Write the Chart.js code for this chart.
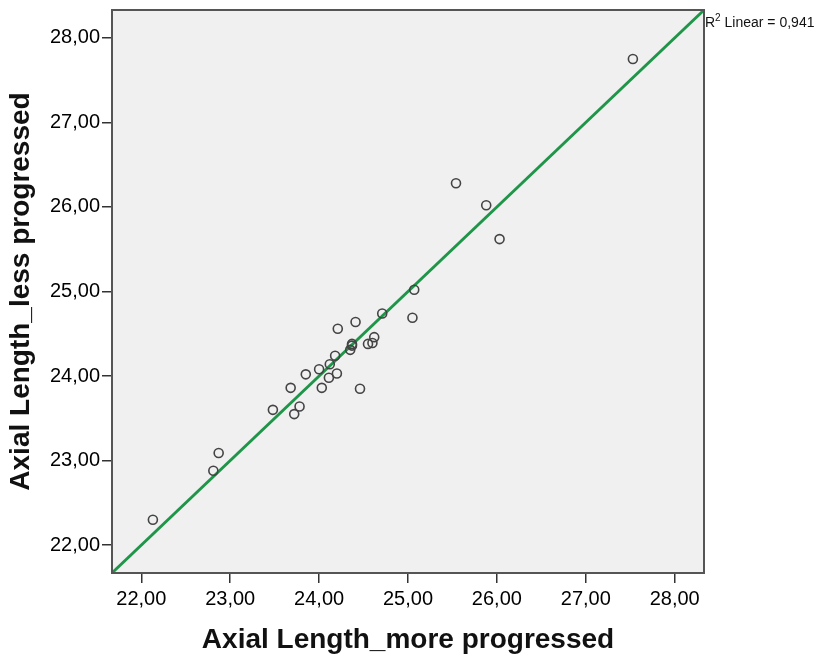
<!DOCTYPE html>
<html>
<head>
<meta charset="utf-8">
<title>Axial Length scatter</title>
<script src="https://cdn.jsdelivr.net/npm/chart.js@4/dist/chart.umd.min.js"></script>
<style>
  html, body { margin: 0; padding: 0; background: #ffffff; }
  #wrap { width: 817px; height: 658px; }
</style>
</head>
<body>
<div id="wrap">
  <canvas id="scatterChart" width="817" height="658"></canvas>
</div>
<script>
// Axial length of the more progressed eye (x) vs the less progressed eye (y)
const moreProgressed = [
    27.53, 25.54, 25.88, 26.03, 25.07, 25.05, 24.71, 24.41, 24.21, 24.62,
    24.55, 24.60, 24.37, 24.35, 24.37, 24.18, 24.12, 24.00, 23.85, 24.20,
    24.11, 23.68, 24.03, 24.46, 23.48, 23.78, 23.72, 22.87, 22.81, 22.13
];
const lessProgressed = [
    27.75, 26.28, 26.02, 25.62, 25.02, 24.69, 24.74, 24.64, 24.56, 24.46,
    24.38, 24.39, 24.38, 24.31, 24.36, 24.24, 24.14, 24.08, 24.02, 24.03,
    23.98, 23.86, 23.86, 23.85, 23.60, 23.64, 23.55, 23.09, 22.88, 22.30
];

// Fit line end points (spans the full axis range)
const fitX = [21.67, 28.33];
const fitY = [21.67, 28.33];
const rSquared = '0,941';

// Axis range and tick labels
const axisMin = 21.67;
const axisMax = 28.33;
const tickValues = [22, 23, 24, 25, 26, 27, 28];
const tickLabels = ['22,00', '23,00', '24,00', '25,00', '26,00', '27,00', '28,00'];

const FONT = "'Liberation Sans', Arial, sans-serif";

// Grey plot background and dark frame around the chart area
const plotFrame = {
    id: 'plotFrame',
    beforeDraw(chart) {
        const { ctx, chartArea: a } = chart;
        ctx.save();
        ctx.fillStyle = '#f0f0f0';
        ctx.fillRect(a.left, a.top, a.right - a.left, a.bottom - a.top);
        ctx.restore();
    },
    afterDraw(chart) {
        const { ctx, chartArea: a } = chart;
        ctx.save();
        ctx.strokeStyle = '#555555';
        ctx.lineWidth = 2;
        ctx.strokeRect(a.left, a.top, a.right - a.left, a.bottom - a.top);

        // R² label at the end of the fit line
        let x = a.right + 1;
        const y = a.top + 17;
        ctx.fillStyle = '#111111';
        ctx.textBaseline = 'alphabetic';
        ctx.font = '14px ' + FONT;
        ctx.fillText('R', x, y);
        x += ctx.measureText('R').width;
        ctx.font = '10px ' + FONT;
        ctx.fillText('2', x, y - 6);
        x += ctx.measureText('2').width;
        ctx.font = '14px ' + FONT;
        ctx.fillText(' Linear = ' + rSquared, x, y);
        ctx.restore();
    }
};

function axisTicks(scale) {
    scale.ticks = tickValues.map(v => ({ value: v }));
}

function tickText(value) {
    const i = tickValues.indexOf(value);
    return i >= 0 ? tickLabels[i] : '';
}

const ctx = document.getElementById('scatterChart');
new Chart(ctx, {
    type: 'scatter',
    data: {
        datasets: [{
            label: 'Axial Length',
            data: moreProgressed.map((x, i) => ({ x: x, y: lessProgressed[i] })),
            pointStyle: 'circle',
            pointRadius: 4.5,
            pointBorderWidth: 1.6,
            pointBorderColor: '#444444',
            pointBackgroundColor: 'rgba(0,0,0,0)'
        }, {
            type: 'line',
            label: 'Fit',
            data: fitX.map((x, i) => ({ x: x, y: fitY[i] })),
            borderColor: '#1e9548',
            borderWidth: 2.8,
            pointRadius: 0,
            fill: false
        }]
    },
    options: {
        responsive: false,
        animation: false,
        layout: {
            padding: { left: 0, top: 10, right: 113, bottom: 0 }
        },
        plugins: {
            legend: { display: false },
            tooltip: { enabled: false }
        },
        scales: {
            x: {
                type: 'linear',
                min: axisMin,
                max: axisMax,
                afterBuildTicks: axisTicks,
                afterFit: function(scale) {
                    scale.height = 85;
                    scale.paddingLeft = 0;
                    scale.paddingRight = 0;
                },
                border: { display: false },
                grid: {
                    drawOnChartArea: false,
                    drawTicks: true,
                    tickLength: 10,
                    color: '#333333',
                    lineWidth: 1.5
                },
                ticks: {
                    padding: 4,
                    maxRotation: 0,
                    color: '#000000',
                    font: { family: FONT, size: 20 },
                    callback: tickText
                },
                title: {
                    display: true,
                    text: 'Axial Length_more progressed',
                    color: '#111111',
                    font: { family: FONT, size: 28, weight: 'bold' },
                    padding: { top: 0, bottom: 1 }
                }
            },
            y: {
                type: 'linear',
                min: axisMin,
                max: axisMax,
                afterBuildTicks: axisTicks,
                afterFit: function(scale) {
                    scale.width = 112;
                    scale.paddingTop = 0;
                    scale.paddingBottom = 0;
                },
                border: { display: false },
                grid: {
                    drawOnChartArea: false,
                    drawTicks: true,
                    tickLength: 10,
                    color: '#333333',
                    lineWidth: 1.5
                },
                ticks: {
                    padding: 2,
                    color: '#000000',
                    font: { family: FONT, size: 20 },
                    callback: tickText
                },
                title: {
                    display: true,
                    text: 'Axial Length_less progressed',
                    color: '#111111',
                    font: { family: FONT, size: 28, weight: 'bold' },
                    padding: { top: 4, bottom: 0 }
                }
            }
        }
    },
    plugins: [plotFrame]
});
</script>
</body>
</html>
